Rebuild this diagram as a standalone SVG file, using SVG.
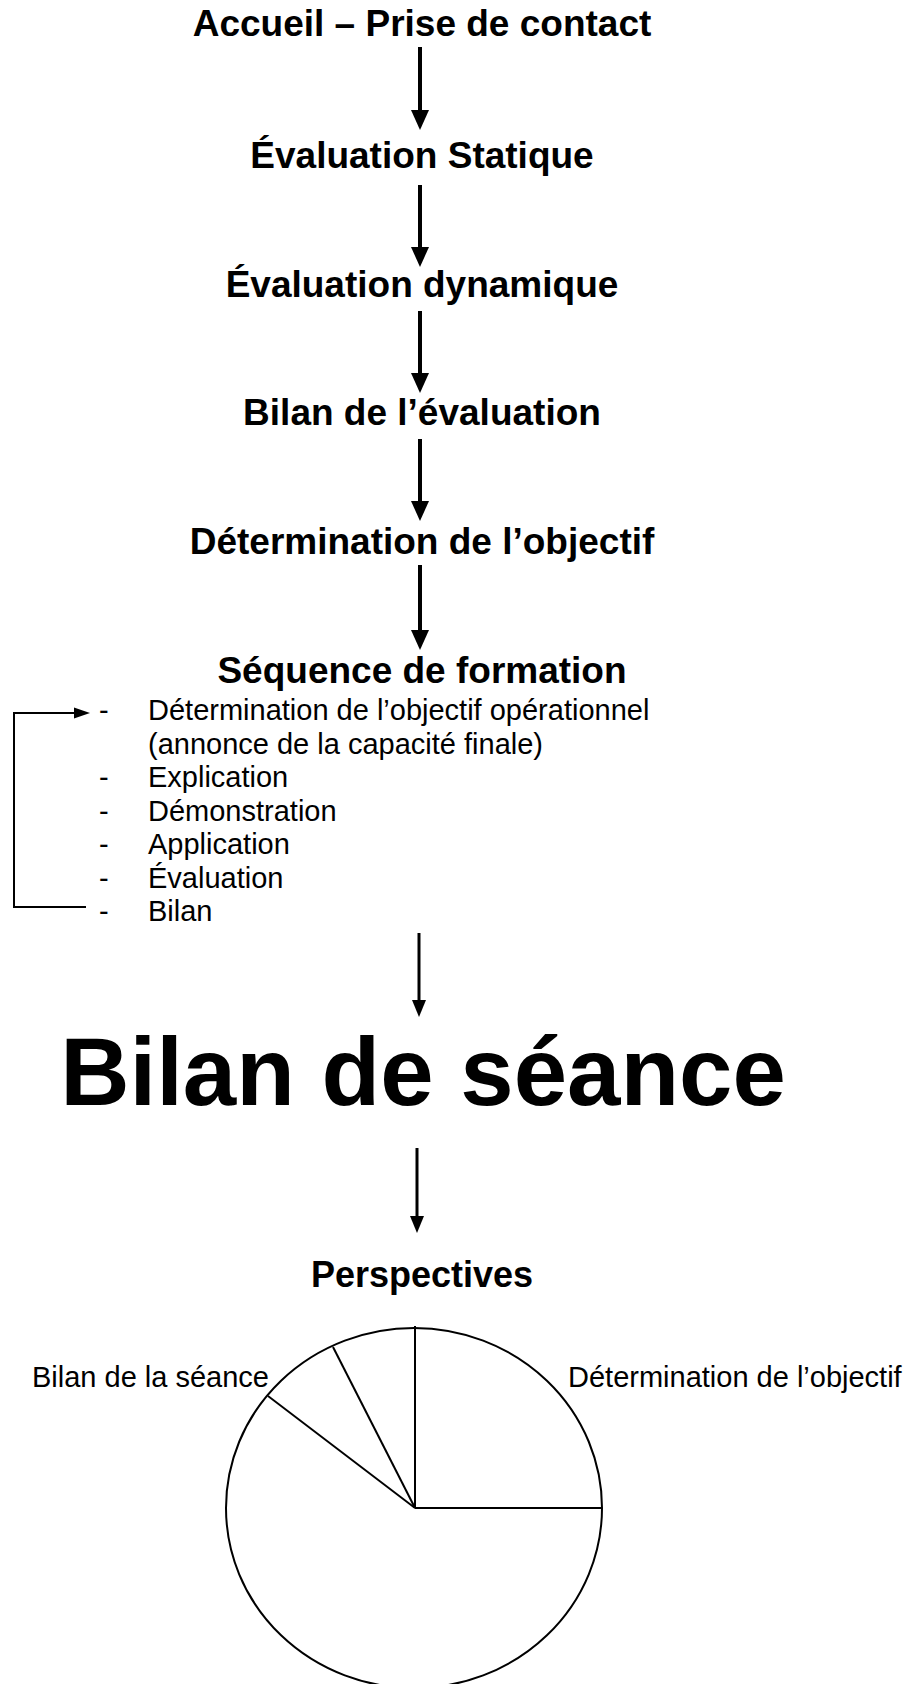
<svg xmlns="http://www.w3.org/2000/svg" xmlns:xlink="http://www.w3.org/1999/xlink" width="908" height="1684" viewBox="0 0 908 1684">
<style>
.t{font-family:"Liberation Sans",Arial,Helvetica,sans-serif;font-weight:bold;font-size:37px;fill:#000;text-anchor:middle}
.r{font-family:"Liberation Sans",Arial,Helvetica,sans-serif;font-size:29px;fill:#000}
.big{font-size:96px}
.persp{font-size:36px}
.thick{stroke:#000;stroke-width:4;fill:none}
.mid{stroke:#000;stroke-width:3;fill:none}
.thin{stroke:#000;stroke-width:2;fill:none}
.pie{stroke:#000;stroke-width:2;fill:#fff}
</style>
<defs>
<path id="headL" d="M-9,-20 L9,-20 L0,0 Z" fill="#000"/>
<path id="headM" d="M-7,-17 L7,-17 L0,0 Z" fill="#000"/>
<path id="headR" d="M-16,-5.5 L0,0 L-16,5.5 Z" fill="#000"/>
</defs>
<rect width="908" height="1684" fill="#fff"/>

<g id="connectors">
<line class="thick" x1="420" y1="47" x2="420" y2="112"/><use xlink:href="#headL" x="420" y="130"/>
<line class="thick" x1="420" y1="185" x2="420" y2="249"/><use xlink:href="#headL" x="420" y="267"/>
<line class="thick" x1="420" y1="311" x2="420" y2="375"/><use xlink:href="#headL" x="420" y="393"/>
<line class="thick" x1="420" y1="439" x2="420" y2="503"/><use xlink:href="#headL" x="420" y="521"/>
<line class="thick" x1="420" y1="565" x2="420" y2="632"/><use xlink:href="#headL" x="420" y="650"/>
<line class="mid" x1="419" y1="933" x2="419" y2="1002"/><use xlink:href="#headM" x="419" y="1017"/>
<line class="mid" x1="417" y1="1148" x2="417" y2="1218"/><use xlink:href="#headM" x="417" y="1233"/>
<polyline class="thin" points="86,907 14,907 14,713 76,713"/><use xlink:href="#headR" x="90" y="713"/>
</g>

<g id="accueil"><text class="t" x="422" y="36">Accueil – Prise de contact</text></g>
<g id="eval-statique"><text class="t" x="422" y="168">Évaluation Statique</text></g>
<g id="eval-dynamique"><text class="t" x="422" y="297">Évaluation dynamique</text></g>
<g id="bilan-evaluation"><text class="t" x="422" y="425">Bilan de l’évaluation</text></g>
<g id="determination-objectif"><text class="t" x="422" y="554">Détermination de l’objectif</text></g>
<g id="sequence-formation">
<text class="t" x="422" y="683">Séquence de formation</text>
<g class="r">
<text x="99" y="720">-</text><text x="148" y="720">Détermination de l’objectif opérationnel</text>
<text x="148" y="754">(annonce de la capacité finale)</text>
<text x="99" y="787">-</text><text x="148" y="787">Explication</text>
<text x="99" y="821">-</text><text x="148" y="821">Démonstration</text>
<text x="99" y="854">-</text><text x="148" y="854">Application</text>
<text x="99" y="888">-</text><text x="148" y="888">Évaluation</text>
<text x="99" y="921">-</text><text x="148" y="921">Bilan</text>
</g>
</g>
<g id="bilan-seance"><text class="t big" x="423" y="1105">Bilan de séance</text></g>
<g id="perspectives">
<text class="t persp" x="422" y="1287">Perspectives</text>
<ellipse class="pie" cx="414" cy="1508" rx="188" ry="180"/>
<line class="thin" x1="415" y1="1508" x2="415" y2="1326"/>
<line class="thin" x1="415" y1="1508" x2="602" y2="1508"/>
<line class="thin" x1="415" y1="1508" x2="333" y2="1347"/>
<line class="thin" x1="415" y1="1508" x2="268" y2="1396"/>
<text class="r" x="32" y="1387">Bilan de la séance</text>
<text class="r" x="568" y="1387">Détermination de l’objectif</text>
</g>
</svg>
